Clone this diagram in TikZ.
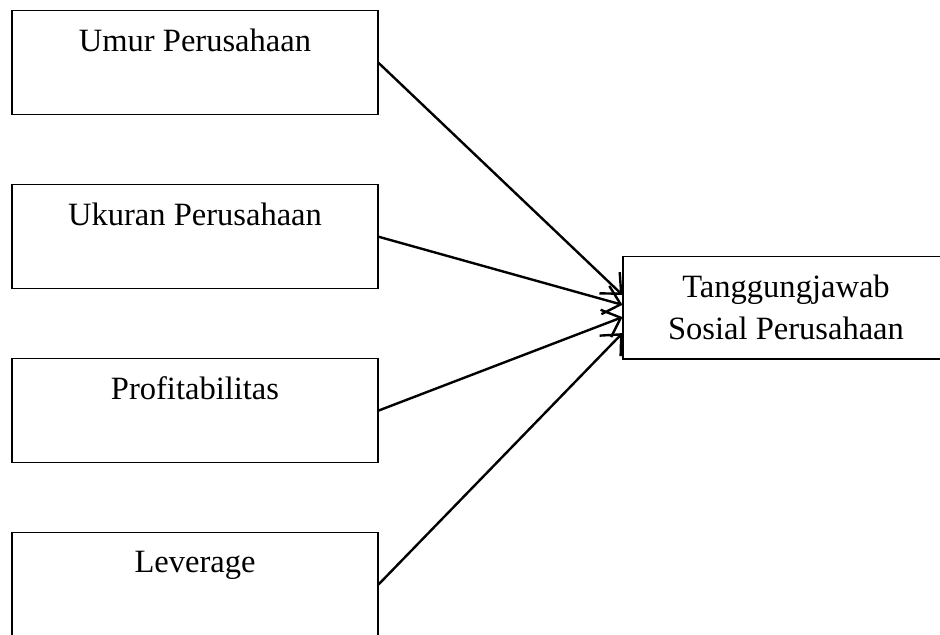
\documentclass[tikz,border=0pt]{standalone}
\usepackage{fontspec}
\setmainfont{Liberation Serif}
\usepackage{tikz}
\usetikzlibrary{positioning, arrows.meta}
\tikzset{
  var/.style={rectangle, draw=black, line width=0.4pt, minimum width=137.25pt, inner xsep=0pt, inner ysep=0pt, text height=15.2pt, text depth=23.8pt, font=\fontsize{12.2}{16}\selectfont},
  dep/.style={rectangle, draw=black, line width=0.4pt, minimum width=122.25pt, minimum height=38.6pt, align=center, font=\fontsize{12.2}{16}\selectfont}
}
\tikzstyle{arrow} = [line width=0.9pt,black,-{Straight Barb[length=6pt,width=11pt]}]

\begin{document}
\begin{tikzpicture}[x=0.375pt,y=-0.375pt,node distance=25.8pt]
    \clip (0,0) rectangle (940,634);
    \node [var] (umur) at (195,62.85) {Umur Perusahaan};
    \node [var, below=of umur] (ukuran) {Ukuran Perusahaan};
    \node [var, below=of ukuran] (profit) {Profitabilitas};
    \node [var, below=of profit] (lev) {Leverage};
    \node [dep] (tsp) at (786,307.5) {Tanggungjawab\\Sosial Perusahaan};
    \draw [arrow] (umur.east) -- ([yshift=4.7pt]tsp.west);
    \draw [arrow] (ukuran.east) -- ([yshift=1pt]tsp.west);
    \draw [arrow] (profit.east) -- ([yshift=-3.6pt]tsp.west);
    \draw [arrow] (lev.east) -- ([yshift=-9.6pt]tsp.west);
\end{tikzpicture}
\end{document}
